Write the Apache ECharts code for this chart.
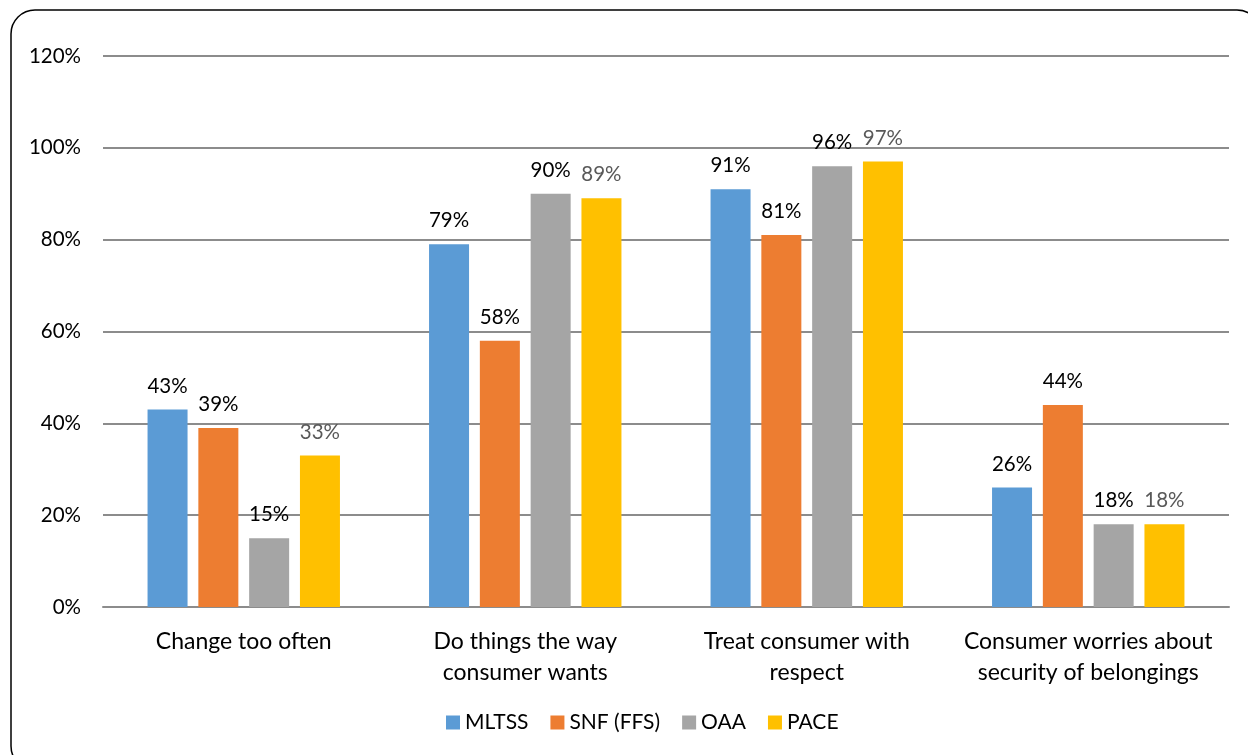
<!DOCTYPE html>
<html>
<head>
<meta charset="utf-8">
<script src="https://cdn.jsdelivr.net/npm/echarts@6/dist/echarts.min.js"></script>
<style>
  html, body { margin: 0; padding: 0; background: #fff; }
  #chart { width: 1248px; height: 755px; }
</style>
</head>
<body>
<div id="chart"></div>
<script>
// Survey measures (share of respondents)
const categories = [
  'Change too often',
  'Do things the way\nconsumer wants',
  'Treat consumer with\nrespect',
  'Consumer worries about\nsecurity of belongings'
];
const mltss = [43, 79, 91, 26];
const snfFfs = [39, 58, 81, 44];
const oaa = [15, 90, 96, 18];
const pace = [33, 89, 97, 18];
const yTicks = [0, 20, 40, 60, 80, 100, 120];

const FONT = 'Lato, "Open Sans", sans-serif';

function barSeries(name, data, color, labelColor) {
  return {
    name: name,
    type: 'bar',
    data: data,
    barWidth: 40,
    barGap: '27%',
    itemStyle: { color: color },
    label: {
      show: true,
      position: 'top',
      distance: 13,
      formatter: p => p.value + '%',
      color: labelColor,
      fontFamily: FONT,
      fontSize: 20.5
    }
  };
}

const chart = echarts.init(document.getElementById('chart'));
chart.setOption({
  animation: false,
  graphic: [{
    type: 'rect',
    shape: { x: 11, y: 10, width: 1250, height: 760, r: 24 },
    style: { fill: 'none', stroke: '#000', lineWidth: 1.5 },
    silent: true
  }],
  grid: { left: 103, right: 19, top: 56, bottom: 148 },
  legend: {
    left: 441,
    top: 707,
    itemWidth: 14,
    itemHeight: 14,
    itemGap: 22,
    icon: 'rect',
    textStyle: { fontFamily: FONT, fontSize: 21, color: '#000', padding: [0, 0, 0, 0] },
    data: ['MLTSS', 'SNF (FFS)', 'OAA', 'PACE']
  },
  xAxis: {
    type: 'category',
    data: categories,
    axisLine: { lineStyle: { color: '#8c8c8c', width: 2 } },
    axisTick: { show: false },
    axisLabel: {
      interval: 0,
      fontFamily: FONT,
      fontSize: 23,
      color: '#000',
      margin: 19,
      lineHeight: 31
    }
  },
  yAxis: {
    type: 'value',
    min: yTicks[0],
    max: yTicks[yTicks.length - 1],
    interval: 20,
    axisLine: { show: false },
    axisTick: { show: false },
    splitLine: { lineStyle: { color: '#8c8c8c', width: 2 } },
    axisLabel: {
      formatter: v => v + '%',
      fontFamily: FONT,
      fontSize: 20.5,
      color: '#000',
      margin: 22
    }
  },
  series: [
    barSeries('MLTSS', mltss, '#5b9bd5', '#000'),
    barSeries('SNF (FFS)', snfFfs, '#ed7d31', '#000'),
    barSeries('OAA', oaa, '#a5a5a5', '#000'),
    barSeries('PACE', pace, '#ffc000', '#595959')
  ]
});
</script>
</body>
</html>
